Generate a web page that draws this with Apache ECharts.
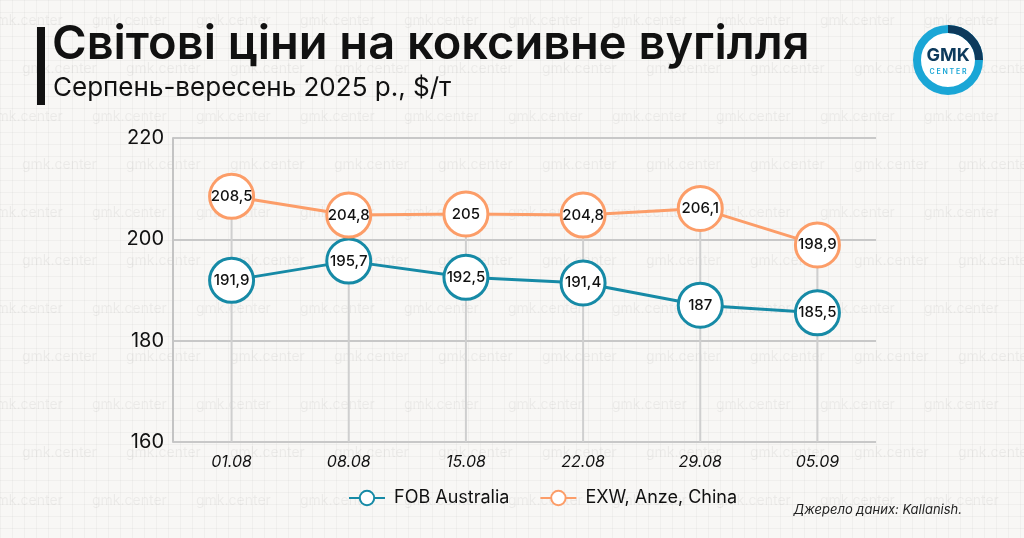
<!DOCTYPE html>
<html>
<head>
<meta charset="utf-8">
<script src="https://cdn.jsdelivr.net/npm/echarts@6/dist/echarts.min.js"></script>
<style>
  html, body { margin: 0; padding: 0; }
  body {
    width: 1024px; height: 538px; overflow: hidden;
    background-color: #f8f7f5;
    background-image:
      linear-gradient(rgba(0,0,0,0.03) 1px, transparent 1px),
      linear-gradient(90deg, rgba(0,0,0,0.03) 1px, transparent 1px);
    background-size: 12px 12px;
  }
  #chart { width: 1024px; height: 538px; }
</style>
</head>
<body>
<div id="chart"></div>
<script>
const dates = ['01.08', '08.08', '15.08', '22.08', '29.08', '05.09']
const fobAustralia = [191.9, 195.7, 192.5, 191.4, 187, 185.5]
const exwAnze = [208.5, 204.8, 205, 204.8, 206.1, 198.9]
const yTicks = [160, 180, 200, 220]

const TEAL = '#168aa6'
const ORANGE = '#fc9d68'
const FONT = 'Inter, "Noto Sans", sans-serif'

const chart = echarts.init(document.getElementById('chart'))

// faint "gmk.center" watermark rows
const watermarks = []
for (let r = 0; r < 12; r++) {
  for (let c = 0; c < 11; c++) {
    watermarks.push({
      type: 'text', silent: true, z: -10,
      x: c * 104 - 12 + (r % 2) * 34, y: 14 + r * 48,
      style: { text: 'gmk.center', fill: 'rgba(0,0,0,0.05)', font: '14px ' + FONT }
    })
  }
}

const fmt = p => String(p.value).replace('.', ',')

const seriesStyle = (name, data, color) => ({
  name,
  type: 'line',
  data,
  z: 3,
  symbol: 'circle',
  symbolSize: 44,
  showAllSymbol: true,
  lineStyle: { color, width: 3 },
  itemStyle: { color: '#fff', borderColor: color, borderWidth: 3 },
  label: {
    show: true, position: 'inside', formatter: fmt,
    color: '#111', fontSize: 15, fontWeight: 500, fontFamily: FONT
  },
  emphasis: { disabled: true }
})

chart.setOption({
  animation: false,
  grid: { left: 173, right: 148, top: 138, bottom: 96 },
  legend: {
    bottom: 26, left: 343, itemGap: 30,
    itemWidth: 36, itemHeight: 18,
    data: ['FOB Australia', 'EXW, Anze, China'],
    textStyle: { color: '#111', fontSize: 18, fontFamily: FONT, padding: [0, 0, 0, 4] }
  },
  xAxis: {
    type: 'category',
    data: dates,
    axisLine: { show: false },
    axisTick: { show: false },
    axisLabel: { color: '#111', fontSize: 16, fontStyle: 'italic', fontFamily: FONT, margin: 12 }
  },
  yAxis: {
    type: 'value',
    min: yTicks[0], max: yTicks[yTicks.length - 1], interval: 20,
    axisLine: { show: true, lineStyle: { color: '#c4c4c4', width: 2 } },
    axisTick: { show: false },
    axisLabel: { color: '#111', fontSize: 20, fontFamily: FONT, margin: 9 },
    splitLine: { lineStyle: { color: '#c8c8c8', width: 2 } }
  },
  series: [
    {
      // vertical drop lines from upper point to the axis
      type: 'bar', data: exwAnze, barWidth: 2, silent: true, z: 1,
      itemStyle: { color: '#cfcfcf' }, legendHoverLink: false, tooltip: { show: false }
    },
    seriesStyle('FOB Australia', fobAustralia, TEAL),
    seriesStyle('EXW, Anze, China', exwAnze, ORANGE)
  ],
  graphic: [
    ...watermarks,
    { type: 'rect', shape: { x: 37, y: 27, width: 8, height: 78 }, style: { fill: '#111' } },
    {
      type: 'text', x: 52, y: 21,
      style: { text: 'Світові ціни на коксивне вугілля', fill: '#111', font: '600 47px ' + FONT }
    },
    {
      type: 'text', x: 53, y: 75,
      style: { text: 'Серпень-вересень 2025 р., $/т', fill: '#111', font: '400 26px ' + FONT }
    },
    {
      type: 'text', right: 62, top: 504,
      style: { text: 'Джерело даних: Kallanish.', fill: '#222', font: 'italic 13px ' + FONT }
    },
    // GMK logo
    { type: 'circle', shape: { cx: 948, cy: 60, r: 34 }, style: { fill: '#fff' } },
    { type: 'arc', shape: { cx: 948, cy: 60, r: 31, startAngle: 0, endAngle: Math.PI * 2 },
      style: { stroke: '#1aa6d6', lineWidth: 8, fill: null } },
    { type: 'arc', shape: { cx: 948, cy: 60, r: 31, startAngle: -Math.PI / 2, endAngle: 0 },
      style: { stroke: '#0d3a5c', lineWidth: 8, fill: null } },
    { type: 'text', x: 948, y: 56,
      style: { text: 'GMK', fill: '#0d3a5c', font: 'bold 18px ' + FONT, align: 'center', verticalAlign: 'middle' } },
    { type: 'text', x: 948, y: 72,
      style: { text: 'C E N T E R', fill: '#1aa6d6', font: '600 7px ' + FONT, align: 'center', verticalAlign: 'middle' } }
  ]
})
</script>
</body>
</html>
